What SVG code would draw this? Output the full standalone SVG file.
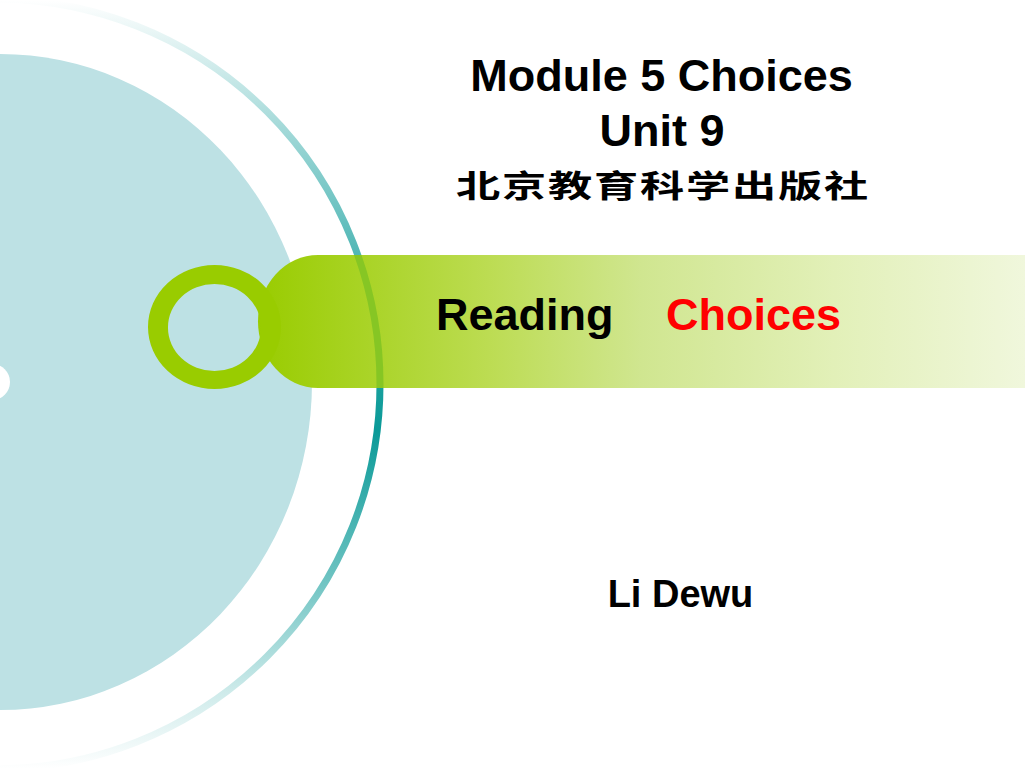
<svg xmlns="http://www.w3.org/2000/svg" width="1025" height="769" viewBox="0 0 1025 769">
  <defs>
    <linearGradient id="arcGrad" gradientUnits="userSpaceOnUse" x1="0" y1="0" x2="0" y2="769">
      <stop offset="0" stop-color="#0a9a98" stop-opacity="0"/>
      <stop offset="0.2" stop-color="#0a9a98" stop-opacity="0.45"/>
      <stop offset="0.4" stop-color="#0a9a98" stop-opacity="0.85"/>
      <stop offset="0.56" stop-color="#0a9a98" stop-opacity="1"/>
      <stop offset="0.75" stop-color="#0a9a98" stop-opacity="0.6"/>
      <stop offset="0.9" stop-color="#0a9a98" stop-opacity="0.2"/>
      <stop offset="1" stop-color="#0a9a98" stop-opacity="0"/>
    </linearGradient>
    <linearGradient id="barGrad" gradientUnits="userSpaceOnUse" x1="258" y1="0" x2="1025" y2="0">
      <stop offset="0" stop-color="#99cc00"/>
      <stop offset="0.3" stop-color="#bcdc52"/>
      <stop offset="0.5" stop-color="#d0e690"/>
      <stop offset="0.75" stop-color="#e2f0b8"/>
      <stop offset="1" stop-color="#f0f7dc"/>
    </linearGradient>
    <clipPath id="barClip">
      <path d="M1025 255 H318 A60 66.5 0 0 0 258 321.5 A60 66.5 0 0 0 318 388 H1025 Z"/>
    </clipPath>
    <style>
      .title { font-family: "Liberation Sans", Arial, sans-serif; font-weight: bold; fill: #000000; }
      .cjk { font-family: "Noto Sans CJK SC", "Noto Sans CJK TC", sans-serif; font-weight: bold; fill: #000000; }
    </style>
  </defs>
  <rect x="0" y="0" width="1025" height="769" fill="#ffffff"/>

  <g id="background">
    <ellipse cx="0" cy="382" rx="312" ry="328" fill="#bde1e4"/>
    <circle cx="-5" cy="384" r="385" fill="none" stroke="url(#arcGrad)" stroke-width="7"/>
    <circle cx="-8" cy="382" r="18" fill="#ffffff"/>
  </g>

  <g id="banner">
    <path d="M1025 255 H318 A60 66.5 0 0 0 258 321.5 A60 66.5 0 0 0 318 388 H1025 Z" fill="url(#barGrad)"/>
    <g clip-path="url(#barClip)">
      <circle cx="-5" cy="384" r="385" fill="none" stroke="#86c624" stroke-width="7"/>
    </g>
    <path d="M214.5 265 A66.5 62 0 1 0 214.5 389 A66.5 62 0 1 0 214.5 265 Z M214.5 284 A46.5 43.5 0 1 1 214.5 371 A46.5 43.5 0 1 1 214.5 284 Z" fill="#99cc00" fill-rule="evenodd"/>
    <text class="title" x="436" y="330" font-size="45">Reading</text>
    <text class="title" x="666" y="330" font-size="45" style="fill:#ff0000">Choices</text>
  </g>

  <g id="titles">
    <text class="title" x="661.5" y="91" font-size="45" text-anchor="middle">Module 5 Choices</text>
    <text class="title" x="662" y="146" font-size="45" text-anchor="middle">Unit 9</text>
    <text class="cjk" transform="translate(456,197) scale(1.3,0.9)" font-size="34" letter-spacing="1.4">北京教育科学出版社</text>
    <text class="title" x="680.5" y="607" font-size="38" text-anchor="middle">Li Dewu</text>
  </g>
</svg>
